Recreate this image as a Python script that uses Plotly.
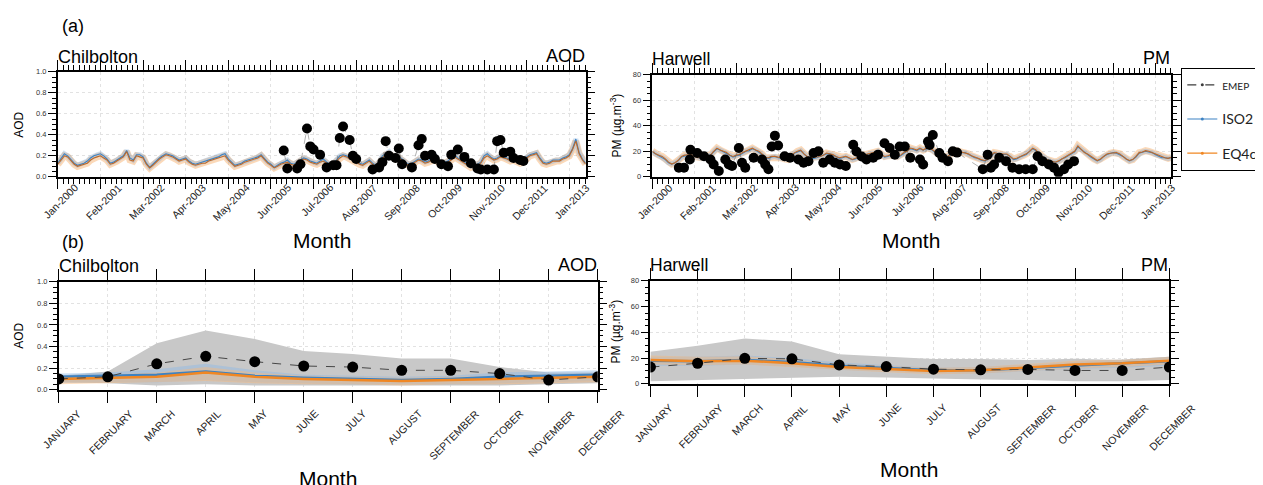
import plotly.graph_objects as go

# page is drawn inside an 8px body margin
OFF = 8
W, H = 1263 - OFF, 485 - OFF
FONT = "Liberation Sans"

# ---------------- data ----------------
YEAR_TICKS = ["Jan-2000", "Feb-2001", "Mar-2002", "Apr-2003", "May-2004", "Jun-2005", "Jul-2006",
              "Aug-2007", "Sep-2008", "Oct-2009", "Nov-2010", "Dec-2011", "Jan-2013"]
MONTHS = ["JANUARY", "FEBRUARY", "MARCH", "APRIL", "MAY", "JUNE", "JULY", "AUGUST",
          "SEPTEMBER", "OCTOBER", "NOVEMBER", "DECEMBER"]
AOD_TICKS = ["0.0", "0.2", "0.4", "0.6", "0.8", "1.0"]
PM_TICKS = ["0", "20", "40", "60", "80"]

# (a) Chilbolton AOD, monthly model values from Jan-2000
chil_eq4c = [0.12, 0.16, 0.20, 0.19, 0.15, 0.12, 0.10, 0.11, 0.12, 0.13, 0.16, 0.18, 0.19,
             0.20, 0.18, 0.16, 0.12, 0.13, 0.15, 0.17, 0.19, 0.24, 0.16, 0.15, 0.20, 0.19,
             0.18, 0.12, 0.085, 0.11, 0.14, 0.17, 0.19, 0.21, 0.20, 0.19, 0.17, 0.15, 0.16,
             0.17, 0.14, 0.12, 0.11, 0.12, 0.13, 0.13, 0.15, 0.16, 0.17, 0.18, 0.19, 0.20,
             0.16, 0.13, 0.10, 0.11, 0.12, 0.14, 0.15, 0.16, 0.17, 0.18, 0.20, 0.16, 0.13,
             0.11, 0.085, 0.10, 0.12, 0.13, 0.14, 0.12, 0.11, 0.13, 0.15, 0.17, 0.16, 0.14,
             0.13, 0.12, 0.14, 0.15, 0.13, 0.11, 0.12, 0.15, 0.18, 0.20, 0.19, 0.17, 0.16,
             0.14, 0.12, 0.11, 0.13, 0.15, 0.12, 0.10, 0.13, 0.18, 0.21, 0.22, 0.19, 0.17,
             0.18, 0.16, 0.13, 0.11, 0.12, 0.14, 0.16, 0.15, 0.13, 0.14, 0.16, 0.17, 0.14,
             0.12, 0.13, 0.14, 0.16, 0.19, 0.17, 0.15, 0.13, 0.11, 0.09, 0.10, 0.11, 0.13,
             0.18, 0.20, 0.18, 0.16, 0.17, 0.19, 0.18, 0.17, 0.15, 0.16, 0.14, 0.13, 0.14,
             0.18, 0.20, 0.21, 0.22, 0.17, 0.13, 0.12, 0.13, 0.15, 0.15, 0.15, 0.17, 0.18,
             0.20, 0.26, 0.34, 0.22, 0.16, 0.12]
chil_iso2 = [0.13, 0.18, 0.22, 0.20, 0.16, 0.13, 0.11, 0.12, 0.13, 0.15, 0.18, 0.20, 0.21,
             0.22, 0.20, 0.17, 0.13, 0.14, 0.16, 0.18, 0.20, 0.25, 0.18, 0.16, 0.21, 0.21,
             0.19, 0.13, 0.09, 0.12, 0.15, 0.18, 0.20, 0.22, 0.21, 0.20, 0.18, 0.16, 0.17,
             0.18, 0.15, 0.13, 0.12, 0.13, 0.14, 0.15, 0.16, 0.17, 0.18, 0.19, 0.21, 0.22,
             0.17, 0.14, 0.11, 0.12, 0.13, 0.15, 0.16, 0.17, 0.18, 0.19, 0.21, 0.17, 0.14,
             0.12, 0.09, 0.11, 0.13, 0.14, 0.16, 0.13, 0.12, 0.14, 0.16, 0.18, 0.17, 0.15,
             0.14, 0.13, 0.15, 0.17, 0.14, 0.12, 0.13, 0.16, 0.20, 0.21, 0.20, 0.18, 0.17,
             0.15, 0.13, 0.12, 0.14, 0.16, 0.13, 0.11, 0.14, 0.20, 0.22, 0.24, 0.20, 0.18,
             0.19, 0.17, 0.14, 0.12, 0.13, 0.15, 0.17, 0.16, 0.14, 0.15, 0.18, 0.20, 0.15,
             0.13, 0.14, 0.15, 0.18, 0.21, 0.18, 0.16, 0.14, 0.12, 0.10, 0.11, 0.12, 0.14,
             0.20, 0.22, 0.19, 0.17, 0.18, 0.20, 0.19, 0.18, 0.16, 0.17, 0.15, 0.14, 0.15,
             0.19, 0.21, 0.22, 0.23, 0.18, 0.14, 0.13, 0.14, 0.16, 0.16, 0.16, 0.18, 0.19,
             0.21, 0.27, 0.36, 0.23, 0.17, 0.13]
chil_obs_month = [68.9, 70, 73, 74, 76, 77, 78, 80, 82, 84, 85, 86, 87, 89, 90, 91, 96, 98, 99,
                  100, 101, 103, 104, 105, 108, 110, 111, 112, 114, 115, 117, 119, 120, 122, 124,
                  126, 128, 129, 131, 133, 134, 135, 136, 138, 139, 141, 142]
chil_obs_aod = [0.25, 0.08, 0.08, 0.12, 0.46, 0.29, 0.26, 0.21, 0.09, 0.11, 0.11, 0.37, 0.48, 0.35,
                0.20, 0.17, 0.07, 0.09, 0.14, 0.34, 0.20, 0.18, 0.27, 0.12, 0.09, 0.30, 0.36, 0.20,
                0.21, 0.17, 0.12, 0.10, 0.21, 0.26, 0.19, 0.13, 0.08, 0.07, 0.07, 0.07, 0.34, 0.35,
                0.23, 0.24, 0.18, 0.16, 0.15]

# (a) Harwell PM, monthly model values from Jan-2000
harw_eq4c = [20, 18, 17, 16, 14, 11.5, 10, 11, 13, 16, 17, 17,
             17.5, 16, 15, 15, 16, 16, 17, 20, 22.5, 21, 20, 19,
             17, 16, 17, 17.5, 19, 20, 21, 22.5, 21, 20, 18, 15,
             15, 16, 16, 15.5, 15, 14, 13.6, 16, 18.8, 20, 21, 18,
             16, 15, 15, 15.5, 16, 17, 18.7, 18, 17.4, 16, 15, 15.5,
             16, 15, 13.6, 14.5, 16, 17, 17.4, 18, 18.7, 19, 20, 18,
             16, 16.5, 17.4, 17, 16, 17, 19, 20, 22.6, 22, 21, 22.5,
             21, 22.5, 22.5, 21, 19, 17, 15.4, 15, 17, 19, 20.5, 20,
             19.5, 19, 18, 16.5, 15.4, 14.5, 13.5, 12.8, 13.5, 16, 19, 18.5,
             17.9, 17.9, 17.9, 16, 14, 14.5, 15.5, 16.7, 18, 20, 22.5, 21,
             17.9, 16, 14, 13, 12, 11.5, 12.5, 14, 15.4, 16.5, 17.9, 20,
             24.3, 22, 19, 17.9, 16, 14, 12.8, 14, 16, 17.9, 18.5, 19,
             19, 18, 16, 14, 12.8, 13.5, 16, 19, 19.5, 20.5, 20, 19,
             17.9, 16.5, 15.4, 15, 14.5, 15.4]
harw_iso2 = [19.5, 18, 16.5, 15.5, 13.5, 11, 10, 11, 12.5, 15.5, 16.5, 17,
             17, 16, 15, 14.5, 15.5, 16, 17, 19.5, 22, 21, 19.5, 18.5,
             17, 15.5, 16.5, 17, 18.5, 20, 20.5, 22, 21, 19.5, 17.5, 15,
             14.5, 15.5, 16, 15, 14.5, 14, 13.5, 15.5, 18.5, 19.5, 20.5, 18,
             15.5, 15, 14.5, 15, 16, 16.5, 18, 18, 17, 16, 14.5, 15,
             16, 14.5, 13.5, 14, 15.5, 17, 17, 18, 18.5, 18.5, 20, 18,
             15.5, 16, 17, 17, 15.5, 16.5, 18.5, 20, 22, 21.5, 20.5, 22,
             21, 22, 22.5, 20.5, 18.5, 17, 15, 15, 16.5, 18.5, 20.5, 19.5,
             19, 19, 17.5, 16.5, 15, 14.5, 13, 12.5, 13.5, 15.5, 18.5, 18,
             17.5, 17.5, 17.5, 16, 13.5, 14, 15.5, 16.5, 17.5, 20, 22, 20.5,
             17.5, 16, 13.5, 13, 12, 11.5, 12, 14, 15, 16.5, 17.5, 19.5,
             23.5, 21.5, 19, 17.5, 15.5, 14, 12.5, 13.5, 16, 17.5, 18, 19,
             18.5, 17.5, 16, 14, 12.5, 13.5, 15.5, 18.5, 19.5, 20, 19.5, 19,
             17.5, 16.5, 15, 15, 14.5, 15]
harw_obs_month = [8.2, 9.8, 11.6, 11.8, 13.9, 16, 18, 19, 20.6, 22.6, 23.7, 24.7, 26.8, 27.8, 28.8,
                  31.4, 34, 35, 36, 37, 38, 39, 41, 42.7, 45.3, 46.9, 48.4, 50, 51.5, 53, 55, 56.6,
                  58.2, 60, 62.3, 63.3, 64.9, 66.4, 68.5, 70, 72, 73.6, 75.2, 76.7, 78.3, 80, 83,
                  84, 85.5, 86, 87, 89, 90, 91.7, 93.2, 94.5, 102.5, 104, 105, 106, 107.6, 109.7,
                  111.7, 113.8, 115.8, 118, 119.5, 121, 123, 124.6, 126, 127.7, 129, 130.8]
harw_obs_pm = [7.2, 7.2, 13.6, 21.3, 18.7, 16.2, 13.6, 9.7, 4.6, 13.6, 9.7, 8.5, 22.6, 11, 7.2,
               14.9, 13.6, 9.7, 5.9, 23.8, 32.3, 24.6, 16.2, 14.9, 13.6, 11, 12.3, 18.7, 20, 11,
               13.6, 11, 9.7, 8.5, 25.1, 19.9, 16, 13.6, 14.9, 17.4, 26.4, 22.6, 17.4, 23.8, 23.8,
               15, 13.6, 9.7, 27.7, 25, 32.8, 18.7, 14.9, 12.3, 20, 19, 5.9, 17.4, 7.2, 9.7, 14.9,
               12.3, 7.2, 5.9, 5.9, 5.9, 16.2, 12.3, 9.7, 7.2, 3.3, 5.9, 9.7, 12.3]

# (b) Chilbolton AOD climatology
chil_clim_obs = [0.10, 0.12, 0.24, 0.31, 0.26, 0.22, 0.21, 0.18, 0.18, 0.15, 0.09, 0.12]
chil_clim_obs_lo = [0.07, 0.06, 0.04, 0.05, 0.04, 0.04, 0.04, 0.04, 0.04, 0.04, 0.05, 0.06]
chil_clim_obs_hi = [0.13, 0.17, 0.43, 0.55, 0.47, 0.36, 0.33, 0.29, 0.29, 0.21, 0.16, 0.16]
chil_clim_iso2 = [0.12, 0.13, 0.14, 0.17, 0.13, 0.11, 0.10, 0.09, 0.10, 0.12, 0.13, 0.14]
chil_clim_iso2_lo = [0.06, 0.07, 0.07, 0.09, 0.07, 0.06, 0.05, 0.05, 0.05, 0.06, 0.07, 0.08]
chil_clim_iso2_hi = [0.15, 0.16, 0.19, 0.24, 0.18, 0.14, 0.13, 0.12, 0.13, 0.16, 0.17, 0.18]
chil_clim_eq4c = [0.10, 0.11, 0.12, 0.16, 0.12, 0.10, 0.09, 0.08, 0.09, 0.10, 0.11, 0.12]
chil_clim_eq4c_lo = [0.05, 0.06, 0.07, 0.08, 0.06, 0.05, 0.05, 0.04, 0.05, 0.05, 0.06, 0.07]
chil_clim_eq4c_hi = [0.13, 0.14, 0.16, 0.21, 0.16, 0.13, 0.12, 0.11, 0.12, 0.13, 0.14, 0.15]

# (b) Harwell PM climatology
harw_clim_obs = [13, 16, 19.8, 19.4, 14.7, 13.4, 11.4, 10.9, 11.2, 10.4, 10.4, 13]
harw_clim_obs_lo = [2, 3, 4, 5, 5.5, 5, 4, 3.3, 3, 2, 2, 3]
harw_clim_obs_hi = [25, 29.5, 35.3, 32.8, 23, 21, 19.3, 19.3, 18.5, 19.5, 18.5, 21]
harw_clim_iso2 = [18, 17.5, 18.5, 17, 14, 12, 10.5, 10.5, 12.5, 14.5, 16, 17.5]
harw_clim_iso2_lo = [14, 14, 15, 13.5, 11, 9.5, 8, 8, 10, 11.5, 12.5, 14]
harw_clim_iso2_hi = [21, 21, 22, 20, 16.5, 14.5, 12.5, 13, 15, 17.5, 19, 21]
harw_clim_eq4c = [18.5, 17.5, 18, 16, 13, 11.7, 10, 10.5, 13, 15, 16, 18]
harw_clim_eq4c_lo = [15, 14.5, 15, 13, 10.5, 9, 7.5, 8, 10, 12, 13, 15]
harw_clim_eq4c_hi = [22, 21, 21.5, 19, 15.5, 14, 12.5, 13, 15.5, 18, 19, 21]

# ---------------- styles ----------------
BLUE = "rgb(60,130,195)"
ORANGE = "rgb(240,135,35)"
BLUE_BAND = "rgba(140,185,230,0.45)"
ORANGE_BAND = "rgba(250,185,120,0.45)"
GREY_BAND = "rgb(200,200,200)"


def px_x(x):
    return (x - OFF) / W


def px_y(y):
    return 1 - (y - OFF) / H


fig = go.Figure()


def series_a(xa, ya, iso, eq, om, ov):
    xs = list(range(len(eq)))
    xi = list(range(len(iso)))
    fig.add_trace(go.Scatter(x=xs, y=eq, mode="lines", xaxis=xa, yaxis=ya, showlegend=False,
                             line=dict(color="rgba(245,160,80,0.40)", width=7), hoverinfo="skip"))
    fig.add_trace(go.Scatter(x=xi, y=iso, mode="lines", xaxis=xa, yaxis=ya, showlegend=False,
                             line=dict(color="rgba(120,170,220,0.35)", width=5), hoverinfo="skip"))
    fig.add_trace(go.Scatter(x=xi, y=iso, mode="lines", xaxis=xa, yaxis=ya, showlegend=False,
                             line=dict(color=BLUE, width=1.1)))
    fig.add_trace(go.Scatter(x=xs, y=eq, mode="lines", xaxis=xa, yaxis=ya, showlegend=False,
                             line=dict(color="rgb(190,105,40)", width=1.1)))
    fig.add_trace(go.Scatter(x=om, y=ov, mode="lines+markers", xaxis=xa, yaxis=ya, showlegend=False,
                             line=dict(color="rgba(90,90,90,0.6)", width=0.8, dash="dash"),
                             marker=dict(color="black", size=10)))


series_a("x", "y", chil_iso2, chil_eq4c, chil_obs_month, chil_obs_aod)
series_a("x2", "y2", harw_iso2, harw_eq4c, harw_obs_month, harw_obs_pm)


def band(xa, ya, lo, hi, color):
    xs = list(range(len(lo)))
    fig.add_trace(go.Scatter(x=xs, y=lo, mode="lines", line=dict(width=0, color=color), xaxis=xa,
                             yaxis=ya, showlegend=False, hoverinfo="skip"))
    fig.add_trace(go.Scatter(x=xs, y=hi, mode="lines", line=dict(width=0, color=color), fill="tonexty",
                             fillcolor=color, xaxis=xa, yaxis=ya, showlegend=False, hoverinfo="skip"))


def series_b(xa, ya, obs, olo, ohi, iso, ilo, ihi, eq, elo, ehi):
    xs = list(range(len(obs)))
    band(xa, ya, olo, ohi, GREY_BAND)
    band(xa, ya, ilo, ihi, BLUE_BAND)
    band(xa, ya, elo, ehi, ORANGE_BAND)
    fig.add_trace(go.Scatter(x=xs, y=iso, mode="lines", line=dict(color=BLUE, width=2.5), xaxis=xa,
                             yaxis=ya, showlegend=False))
    fig.add_trace(go.Scatter(x=xs, y=eq, mode="lines", line=dict(color=ORANGE, width=2.5), xaxis=xa,
                             yaxis=ya, showlegend=False))
    fig.add_trace(go.Scatter(x=xs, y=obs, mode="lines+markers", xaxis=xa, yaxis=ya, showlegend=False,
                             line=dict(color="rgb(70,70,70)", width=1, dash="dash"),
                             marker=dict(color="black", size=11)))


series_b("x3", "y3", chil_clim_obs, chil_clim_obs_lo, chil_clim_obs_hi, chil_clim_iso2,
         chil_clim_iso2_lo, chil_clim_iso2_hi, chil_clim_eq4c, chil_clim_eq4c_lo, chil_clim_eq4c_hi)
series_b("x4", "y4", harw_clim_obs, harw_clim_obs_lo, harw_clim_obs_hi, harw_clim_iso2,
         harw_clim_iso2_lo, harw_clim_iso2_hi, harw_clim_eq4c, harw_clim_eq4c_lo, harw_clim_eq4c_hi)

# legend-only entries
for name, color, dash, fs in [("EMEP", "rgb(60,60,60)", "dash", 10), ("ISO2", BLUE, "solid", 14),
                              ("EQ4c", ORANGE, "solid", 14)]:
    fig.add_trace(go.Scatter(x=[None], y=[None], mode="lines+markers", xaxis="x2", yaxis="y2",
                             name=f"<span style='font-size:{fs}px'>{name}</span>", legendgroup=name,
                             line=dict(color=color, width=1.2, dash=dash),
                             marker=dict(color=color, size=3)))


def axis(**kw):
    d = dict(showline=True, linecolor="black", linewidth=1.6, mirror="ticks", ticks="outside",
             tickcolor="black", tickwidth=1.2, showgrid=True, gridcolor="#e2e2e2", griddash="dot",
             gridwidth=1, zeroline=False, fixedrange=True,
             tickfont=dict(family=FONT, size=7.5, color="#333"))
    d.update(kw)
    return d


def xa_time(dom, anchor):
    return axis(domain=dom, anchor=anchor, range=[0, 161], tickmode="array",
                tickvals=[13 * i for i in range(len(YEAR_TICKS))], showticklabels=False, ticklen=10,
                minor=dict(tickmode="linear", tick0=0, dtick=13 / 8, ticklen=5, ticks="outside",
                           tickcolor="black", tickwidth=1, showgrid=False))


def xa_month(dom, anchor):
    return axis(domain=dom, anchor=anchor, range=[0, 11], tickmode="array",
                tickvals=list(range(len(MONTHS))), showticklabels=False, ticklen=11)


def ya(dom, anchor, top, labels, minor_step):
    step = top / (len(labels) - 1)
    return axis(domain=dom, anchor=anchor, range=[0, top], tickmode="array",
                tickvals=[step * i for i in range(len(labels))], ticktext=labels, ticklen=8,
                minor=dict(tickmode="linear", tick0=0, dtick=minor_step, ticklen=4, ticks="outside",
                           tickcolor="black", tickwidth=1, showgrid=False))


fig.update_layout(
    width=W, height=H, margin=dict(l=0, r=0, t=0, b=0), paper_bgcolor="white", plot_bgcolor="white",
    font=dict(family=FONT, color="black"),
    xaxis=xa_time([px_x(58), px_x(588)], "y"),
    yaxis=ya([px_y(176), px_y(69)], "x", 1.0, AOD_TICKS, 0.05),
    xaxis2=xa_time([px_x(655), px_x(1176)], "y2"),
    yaxis2=ya([px_y(176), px_y(72)], "x2", 80, PM_TICKS, 5),
    xaxis3=xa_month([px_x(59), px_x(600)], "y3"),
    yaxis3=ya([px_y(393), px_y(283)], "x3", 1.0, AOD_TICKS, 0.05),
    xaxis4=xa_month([px_x(653), px_x(1174)], "y4"),
    yaxis4=ya([px_y(387), px_y(282)], "x4", 80, PM_TICKS, 5),
    showlegend=True,
    legend=dict(x=px_x(1186), y=px_y(65), xanchor="left", yanchor="top", bordercolor="black",
                borderwidth=1.3, bgcolor="white", font=dict(family="Lato", size=14, color="#222"),
                itemwidth=30, tracegroupgap=13, traceorder="grouped"),
)

ann = []


def text(x, y, s, size, xanchor="left", yanchor="middle", angle=0, color="black"):
    ann.append(dict(x=px_x(x), y=px_y(y), xref="paper", yref="paper", text=s, showarrow=False,
                    xanchor=xanchor, yanchor=yanchor, textangle=angle,
                    font=dict(family=FONT, size=size, color=color)))


text(60, 22, "(a)", 18)
text(60, 242, "(b)", 18)
text(56, 54, "Chilbolton", 18)
text(589, 53, "AOD", 18, xanchor="right")
text(653, 56, "Harwell", 17.5)
text(1177, 55, "PM", 18, xanchor="right")
text(57, 267, "Chilbolton", 18)
text(601, 266, "AOD", 18, xanchor="right")
text(651, 266, "Harwell", 17.5)
text(1175, 266, "PM", 18, xanchor="right")
text(323, 241, "Month", 21, xanchor="center")
text(915, 241, "Month", 21, xanchor="center")
text(329, 470, "Month", 21, xanchor="center", yanchor="top")
text(913, 461, "Month", 21, xanchor="center", yanchor="top")
text(19, 123, "AOD", 12, xanchor="center", angle=-90)
text(19, 338, "AOD", 12, xanchor="center", angle=-90)
text(618, 124, "PM (µg.m<sup>-3</sup>)", 12, xanchor="center", angle=-90)
text(617, 334, "PM (µg.m<sup>-3</sup>)", 12, xanchor="center", angle=-90)

for xa_name, ytop in [("x", 178), ("x2", 178)]:
    for i, lab in enumerate(YEAR_TICKS):
        ann.append(dict(x=13 * i, xref=xa_name, y=px_y(ytop), yref="paper", text=lab, showarrow=False,
                        textangle=-45, xanchor="center", yanchor="top", xshift=3,
                        font=dict(family=FONT, size=10.5, color="#222")))
for xa_name, ytop in [("x3", 408), ("x4", 402)]:
    for i, lab in enumerate(MONTHS):
        ann.append(dict(x=i, xref=xa_name, y=px_y(ytop), yref="paper", text=lab, showarrow=False,
                        textangle=-45, xanchor="center", yanchor="top", xshift=3,
                        font=dict(family=FONT, size=10.5, color="#222")))

fig.update_layout(annotations=ann)
fig.write_html("out.html")
